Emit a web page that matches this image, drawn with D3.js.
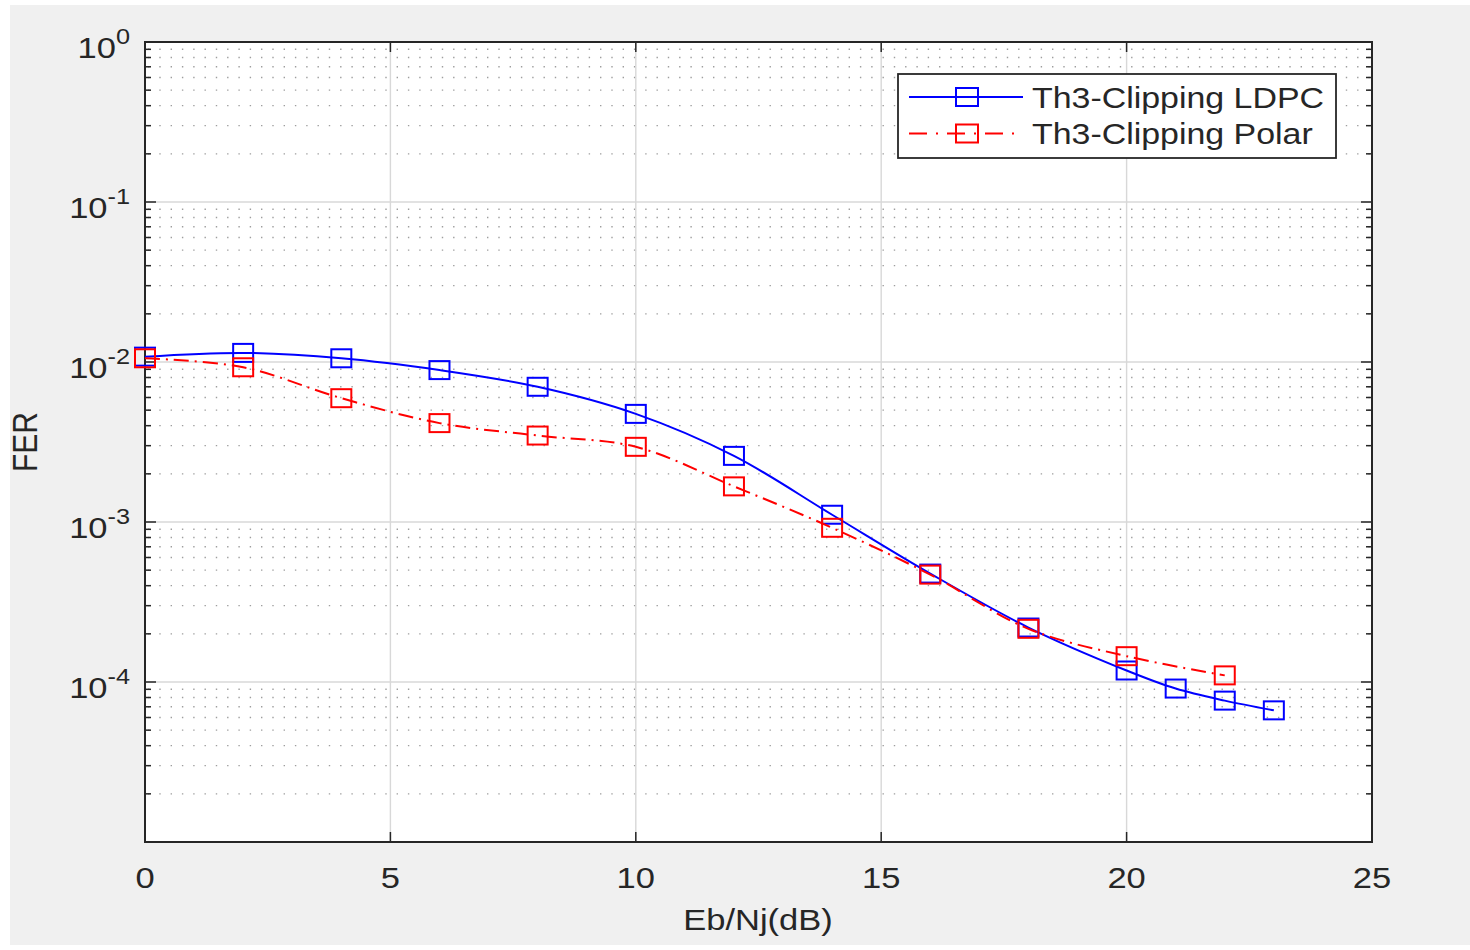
<!DOCTYPE html>
<meta charset="utf-8">
<title>FER vs Eb/Nj</title>
<script src="https://d3js.org/d3.v7.min.js"></script>
<body style="margin:0; background:#fff;">
<div id="chart"></div>
</body>
<script>
// data
const ebnoLdpc = [0, 2, 4, 6, 8, 10, 12, 14, 16, 18, 20, 21, 22, 23]
const ferLdpc = [1.08e-2, 1.14e-2, 1.055e-2, 8.9e-3, 7.0e-3, 4.74e-3, 2.59e-3, 1.11e-3, 4.76e-4, 2.19e-4, 1.18e-4, 9.1e-5, 7.65e-5, 6.65e-5]
const ebnoPolar = [0, 2, 4, 6, 8, 10, 12, 14, 16, 18, 20, 22]
const ferPolar = [1.055e-2, 9.27e-3, 5.94e-3, 4.15e-3, 3.47e-3, 2.95e-3, 1.67e-3, 9.2e-4, 4.69e-4, 2.15e-4, 1.45e-4, 1.10e-4]
const xTicks = [0, 5, 10, 15, 20, 25]
const yExponents = [0, -1, -2, -3, -4]
const seriesNames = ["Th3-Clipping LDPC", "Th3-Clipping Polar"]

const W = 1470, H = 950
const axisColor = "#262626"
const font = "'Liberation Sans', Arial, sans-serif"
const stretch = 1.15  // the reference is a bit wider than tall

const series = [
  {name: seriesNames[0], xs: ebnoLdpc, ys: ferLdpc, color: "#0000ff", dash: null},
  {name: seriesNames[1], xs: ebnoPolar, ys: ferPolar, color: "#ff0000", dash: "15,6,2,6"}
]

const x = d3.scaleLinear().domain([0, 25]).range([145, 1372])
const y = d3.scaleLog().domain([1e-5, 1]).range([842, 42])

const svg = d3.select("#chart").append("svg")
    .attr("width", W).attr("height", H)
    .style("display", "block")
    .style("font-family", font)

// figure background
svg.append("rect").attr("x", 10).attr("y", 5).attr("width", W - 10).attr("height", 940).attr("fill", "#f0f0f0")

// plot area
svg.append("rect")
    .attr("x", x(0)).attr("y", y(1))
    .attr("width", x(25) - x(0)).attr("height", y(1e-5) - y(1))
    .attr("fill", "#fff")

// minor grid (dotted, horizontal only)
const minorVals = []
for (let e = -5; e < 0; e++) for (let k = 2; k <= 9; k++) minorVals.push(k * Math.pow(10, e))

svg.append("g")
    .attr("stroke", "#9e9e9e")
    .attr("stroke-width", 1.4)
    .attr("stroke-dasharray", "1.4,9.9")
  .selectAll("line")
  .data(minorVals)
  .join("line")
    .attr("x1", x(0) + 3).attr("x2", x(25))
    .attr("y1", d => y(d)).attr("y2", d => y(d))

// major grid
const majorG = svg.append("g").attr("stroke", "#d8d8d8").attr("stroke-width", 1.4)
majorG.selectAll("line.h")
  .data(yExponents.filter(e => e < 0).map(e => Math.pow(10, e)))
  .join("line").attr("class", "h")
    .attr("x1", x(0)).attr("x2", x(25))
    .attr("y1", d => y(d)).attr("y2", d => y(d))
majorG.selectAll("line.v")
  .data(xTicks.slice(1, -1))
  .join("line").attr("class", "v")
    .attr("x1", d => x(d)).attr("x2", d => x(d))
    .attr("y1", y(1)).attr("y2", y(1e-5))

// axes box and ticks
const ticksG = svg.append("g").attr("stroke", axisColor).attr("stroke-width", 1.5)
ticksG.selectAll("line.xb")
  .data(xTicks)
  .join("line")
    .attr("x1", d => x(d)).attr("x2", d => x(d))
    .attr("y1", y(1e-5)).attr("y2", y(1e-5) - 10)
ticksG.selectAll("line.xt")
  .data(xTicks)
  .join("line")
    .attr("x1", d => x(d)).attr("x2", d => x(d))
    .attr("y1", y(1)).attr("y2", y(1) + 10)
const yTickVals = yExponents.map(e => Math.pow(10, e)).concat([1e-5])
for (const side of [0, 1]) {
  const x0 = side ? x(25) : x(0), dir = side ? -1 : 1
  ticksG.append("g").selectAll("line")
    .data(yTickVals)
    .join("line")
      .attr("x1", x0).attr("x2", x0 + dir * 11)
      .attr("y1", d => y(d)).attr("y2", d => y(d))
  ticksG.append("g").selectAll("line")
    .data(minorVals)
    .join("line")
      .attr("x1", x0).attr("x2", x0 + dir * 6)
      .attr("y1", d => y(d)).attr("y2", d => y(d))
}
svg.append("rect")
    .attr("x", x(0)).attr("y", y(1))
    .attr("width", x(25) - x(0)).attr("height", y(1e-5) - y(1))
    .attr("fill", "none").attr("stroke", axisColor).attr("stroke-width", 2)

// tick labels
function label(px, py, anchor) {
  return svg.append("text")
      .attr("transform", `translate(${px},${py}) scale(${stretch},1)`)
      .attr("text-anchor", anchor)
      .attr("fill", axisColor)
      .attr("font-size", 30)
}

xTicks.forEach(t => label(x(t), 888, "middle").text(t))

yExponents.forEach(e => {
  const t = label(130, y(Math.pow(10, e)) + 16, "end")
  t.append("tspan").text("10")
  t.append("tspan").attr("dy", -14).attr("font-size", 22).text(e)
})

label(758, 930, "middle").text("Eb/Nj(dB)")

svg.append("text")
    .attr("transform", `translate(37,442) scale(${stretch},1) rotate(-90)`)
    .attr("text-anchor", "middle")
    .attr("fill", axisColor)
    .attr("font-size", 30)
    .text("FER")

// series
const line = d3.line()
    .x(d => x(d[0]))
    .y(d => y(d[1]))
    .curve(d3.curveCatmullRom.alpha(0.5))

const seriesG = svg.append("g")
series.forEach(s => {
  const pts = s.xs.map((v, i) => [v, s.ys[i]])
  seriesG.append("path")
      .datum(pts)
      .attr("d", line)
      .attr("fill", "none")
      .attr("stroke", s.color)
      .attr("stroke-width", 2)
      .attr("stroke-dasharray", s.dash)
  seriesG.append("g").selectAll("rect")
    .data(pts)
    .join("rect")
      .attr("x", d => x(d[0]) - 10)
      .attr("y", d => y(d[1]) - 9)
      .attr("width", 20).attr("height", 18)
      .attr("fill", "none")
      .attr("stroke", s.color)
      .attr("stroke-width", 2)
})

// legend
const legend = svg.append("g")
legend.append("rect")
    .attr("x", 898).attr("y", 74)
    .attr("width", 438).attr("height", 84)
    .attr("fill", "#fff").attr("stroke", axisColor).attr("stroke-width", 1.8)
series.forEach((s, i) => {
  const ly = 97 + i * 36.5
  legend.append("line")
      .attr("x1", 909).attr("x2", 1023)
      .attr("y1", ly).attr("y2", ly)
      .attr("stroke", s.color).attr("stroke-width", 2)
      .attr("stroke-dasharray", s.dash ? "18,9,2,9" : null)
  legend.append("rect")
      .attr("x", 956).attr("y", ly - 9)
      .attr("width", 22).attr("height", 18)
      .attr("fill", "none").attr("stroke", s.color).attr("stroke-width", 2)
  legend.append("text")
      .attr("transform", `translate(1032,${ly + 10.5}) scale(${stretch},1)`)
      .attr("fill", axisColor)
      .attr("font-size", 29.5)
      .text(s.name)
})
</script>
